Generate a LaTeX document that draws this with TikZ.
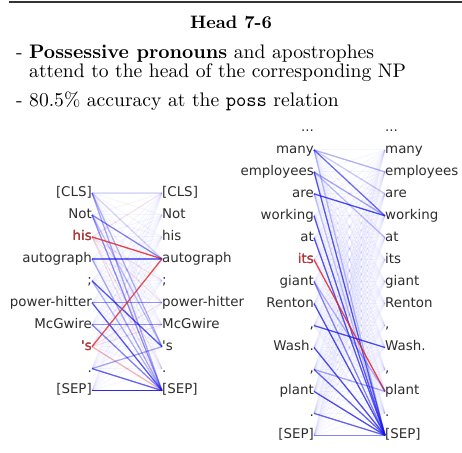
\documentclass[tikz,border=0pt]{standalone}
\usepackage{fontspec}
\setmainfont{lmroman10-regular.otf}[BoldFont=lmroman10-bold.otf]
\setmonofont{lmmono10-regular.otf}
\newfontfamily\wordfont{DejaVu Sans}
\definecolor{wordgray}{RGB}{45,45,45}
\definecolor{wordred}{RGB}{210,45,45}
\definecolor{attblue}{RGB}{20,20,235}
\definecolor{attred}{RGB}{225,40,40}
\begin{document}
\begin{tikzpicture}[x=1pt,y=-1pt,
  wbase/.style={font=\wordfont\fontsize{13.4}{15}\selectfont, text=wordgray, inner sep=0pt, text height=9.6pt, text depth=2.8pt},
  lw/.style={wbase, anchor=east},
  rw/.style={wbase, anchor=west},
  att/.style={line width=1.3pt, draw=attblue, draw opacity=#1},
  attr/.style={line width=1.3pt, draw=attred, draw opacity=#1},
  haze/.style={line width=1pt, draw=attblue, draw opacity=0.045},
  hazer/.style={line width=1pt, draw=attred, draw opacity=0.1},
  bodytext/.style={font=\fontsize{19.6}{22}\selectfont, inner sep=0pt, anchor=base west},
]
\useasboundingbox (0,0) rectangle (462,452);
% top rule
\draw[line width=2.5pt, black!80] (9,2) -- (462,2);
% title and bullets
\node[font=\bfseries\fontsize{18}{21}\selectfont, inner sep=0pt, anchor=base] (title) at (231,29) {Head 7-6};
\node[bodytext] (d1) at (16,59) {-};
\node[bodytext] (t1) at (29,59) {\textbf{Possessive pronouns} and apostrophes};
\node[bodytext] (t2) at (29,77) {attend to the head of the corresponding NP};
\node[bodytext] (d2) at (16,106) {-};
\node[bodytext] (t3) at (29,106) {80.5\% accuracy at the \texttt{poss} relation};

% ---------- left example ----------
\def\lx{92}\def\rx{162}
\foreach \w [count=\i from 0] in {{[CLS]},Not,his,autograph,{;},power-hitter,McGwire,{'s},{.},{[SEP]}} {
  \node[lw] (a\i) at (\lx,193+21.95*\i) {\w};
  \node[rw] (b\i) at (\rx,193+21.95*\i) {\w};
}
\node[lw, text=wordred] at (a2.east) {his};
\node[lw, text=wordred] at (a7.east) {'s};
\foreach \i in {0,...,9} \foreach \j in {0,...,9} \draw[haze] (a\i.east) -- (b\j.west);
\foreach \j in {0,4,5,8,9} \draw[hazer] (a2.east) -- (b\j.west);
\foreach \j in {5,6,9} \draw[hazer] (a7.east) -- (b\j.west);
\draw[att=0.35] (a0.east) -- (b9.west);
\draw[att=0.3] (a0.east) -- (b7.west);
\draw[att=0.15] (a0.east) -- (b3.west);
\draw[att=0.12] (a0.east) -- (b0.west);
\draw[att=0.5] (a1.east) -- (b3.west);
\draw[att=0.45] (a1.east) -- (b9.west);
\draw[att=0.25] (a1.east) -- (b7.west);
\draw[attr=0.85] (a2.east) -- (b3.west);
\draw[att=0.6] (a3.east) -- (b3.west);
\draw[att=0.35] (a3.east) -- (b9.west);
\draw[att=0.7] (a4.east) -- (b7.west);
\draw[att=0.3] (a4.east) -- (b9.west);
\draw[att=0.45] (a5.east) -- (b5.west);
\draw[att=0.7] (a5.east) -- (b9.west);
\draw[att=0.45] (a6.east) -- (b6.west);
\draw[att=0.5] (a6.east) -- (b9.west);
\draw[attr=0.8] (a7.east) -- (b3.west);
\draw[attr=0.25] (a7.east) -- (b9.west);
\draw[att=0.65] (a8.east) -- (b9.west);
\draw[att=0.35] (a8.east) -- (b7.west);
\draw[att=0.9] (a9.east) -- (b9.west);

% ---------- right example ----------
\def\lxx{314}\def\rxx{385}
\node[lw] (c0) at (\lxx,128) {\char46\char46\char46};
\node[rw] (e0) at (\rxx,128) {\char46\char46\char46};
\foreach \w [count=\i from 1] in {many,employees,are,working,at,its,giant,Renton,{,},{Wash.},{,},plant,{.},{[SEP]}} {
  \node[lw] (c\i) at (\lxx,128+21.95*\i) {\w};
  \node[rw] (e\i) at (\rxx,128+21.95*\i) {\w};
}
\node[lw, text=wordred] at (c6.east) {its};
\foreach \i in {1,...,14} \foreach \j in {1,...,14} \draw[haze] (c\i.east) -- (e\j.west);
\draw[att=0.3] (c1.east) -- (e2.west);
\draw[att=0.2] (c1.east) -- (e3.west);
\draw[att=0.6] (c1.east) -- (e4.west);
\draw[att=0.25] (c1.east) -- (e14.west);
\draw[att=0.7] (c2.east) -- (e14.west);
\draw[att=0.35] (c2.east) -- (e4.west);
\draw[att=0.25] (c2.east) -- (e5.west);
\draw[att=0.75] (c3.east) -- (e4.west);
\draw[att=0.2] (c3.east) -- (e14.west);
\draw[att=0.7] (c4.east) -- (e14.west);
\draw[att=0.7] (c5.east) -- (e14.west);
\draw[attr=0.85] (c6.east) -- (e12.west);
\draw[att=0.5] (c7.east) -- (e14.west);
\draw[att=0.3] (c7.east) -- (e12.west);
\draw[att=0.75] (c8.east) -- (e14.west);
\draw[att=0.75] (c9.east) -- (e10.west);
\draw[att=0.75] (c10.east) -- (e14.west);
\draw[att=0.65] (c11.east) -- (e14.west);
\draw[att=0.35] (c11.east) -- (e12.west);
\draw[att=0.75] (c12.east) -- (e14.west);
\draw[att=0.65] (c13.east) -- (e14.west);
\draw[att=0.5] (c14.east) -- (e14.west);
\end{tikzpicture}
\end{document}
